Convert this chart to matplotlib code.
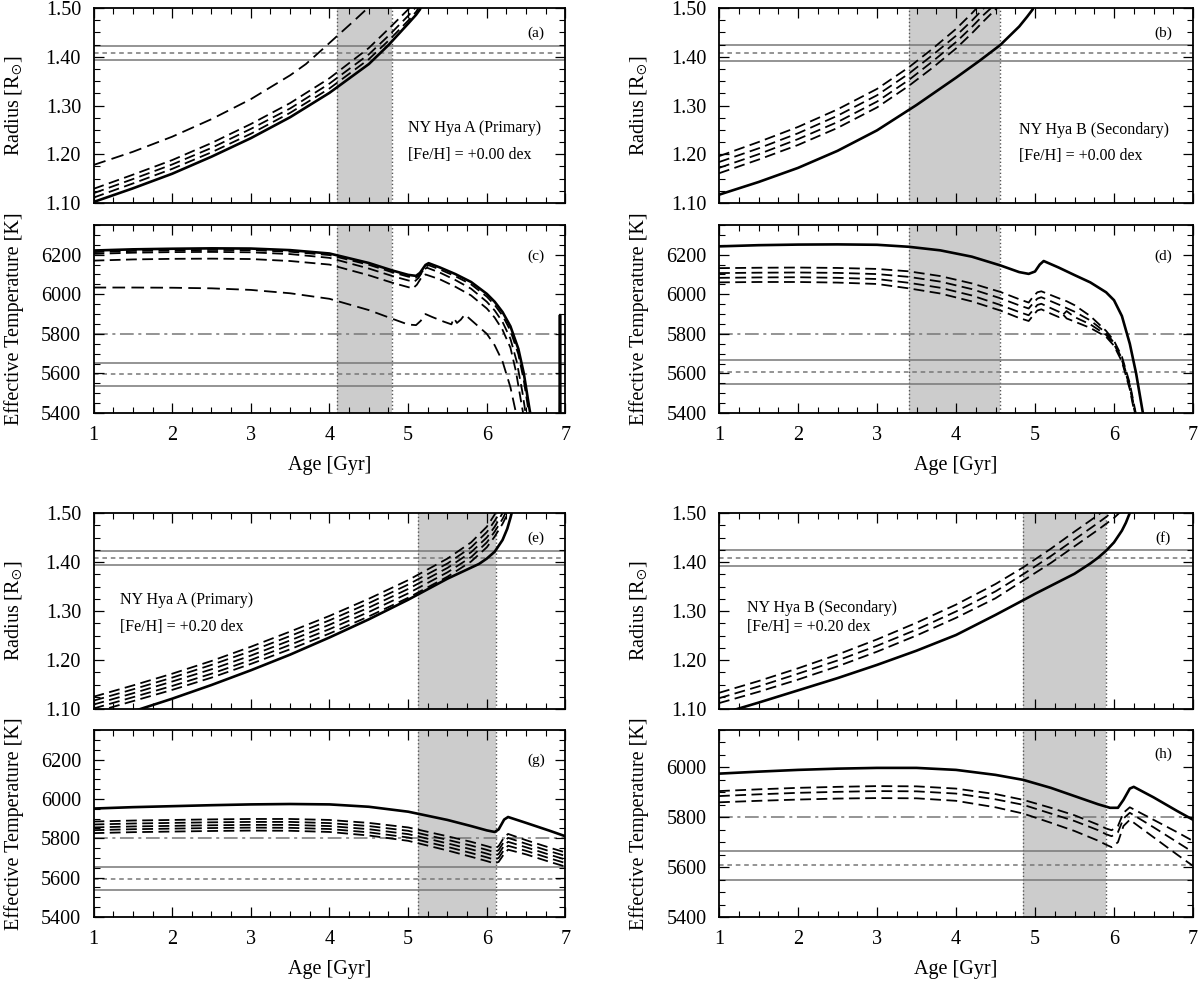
import matplotlib
matplotlib.use("Agg")
import matplotlib.pyplot as plt
from matplotlib.ticker import MultipleLocator

plt.rcParams['font.family'] = ['Liberation Serif', 'DejaVu Serif']
plt.rcParams['mathtext.fontset'] = 'stix'

# ---------------- observed values (horizontal reference lines) ----------------
radius_A = [1.393, 1.408, 1.423]      # lower, mean, upper
radius_B = [1.391, 1.408, 1.425]
teff_A = [5536, 5595, 5653]
teff_B = [5547, 5607, 5666]
teff_ref = 5800                        # dash-dot line

# age ranges (shaded bands) in Gyr
band_a = [4.09, 4.79]
band_b = [3.40, 4.56]
band_e = [5.12, 6.12]
band_f = [4.85, 5.90]

# ---------------- (a) NY Hya A, radius, [Fe/H]=0.00 ----------------
age_a_s = [1.0, 1.5, 2.0, 2.5, 3.0, 3.5, 4.0, 4.5, 4.75, 5.0, 5.1, 5.15, 5.18, 5.2]
rad_a_s = [1.102, 1.130, 1.160, 1.195, 1.233, 1.276, 1.326, 1.385, 1.424, 1.468, 1.486, 1.497, 1.51, 1.52]
age_a_d = [1.0, 1.5, 2.0, 2.5, 3.0, 3.5, 4.0, 4.5, 4.75, 5.0, 5.1, 5.15]
rad_a_d1 = [1.129, 1.158, 1.188, 1.223, 1.262, 1.305, 1.356, 1.418, 1.457, 1.497, 1.515, 1.53]
rad_a_d2 = [1.120, 1.149, 1.179, 1.213, 1.252, 1.294, 1.345, 1.405, 1.443, 1.484, 1.502, 1.515]
rad_a_d3 = [1.111, 1.140, 1.170, 1.204, 1.242, 1.285, 1.335, 1.395, 1.433, 1.474, 1.492, 1.505]
age_a_far = [1.0, 1.5, 2.0, 2.5, 3.0, 3.5, 3.7, 3.95, 4.1, 4.3, 4.5]
rad_a_far = [1.178, 1.205, 1.236, 1.272, 1.313, 1.362, 1.385, 1.421, 1.443, 1.472, 1.502]

# ---------------- (c) NY Hya A, Teff, [Fe/H]=0.00 ----------------
age_c_s = [1.0, 1.5, 2.0, 2.5, 3.0, 3.5, 4.0, 4.5, 4.8, 5.0, 5.1, 5.15, 5.22, 5.26, 5.4,
           5.6, 5.8, 6.0, 6.1, 6.2, 6.3, 6.4, 6.47, 6.53, 6.58]
teff_c_s = [6221, 6227, 6230, 6232, 6231, 6223, 6206, 6158, 6120, 6098, 6093, 6108, 6148, 6157, 6136,
            6102, 6062, 6002, 5962, 5910, 5838, 5725, 5600, 5450, 5330]
teff_c_d1 = [6213, 6219, 6222, 6224, 6223, 6215, 6198, 6149, 6111, 6089, 6084, 6098, 6138, 6147, 6126,
             6091, 6050, 5988, 5946, 5892, 5816, 5698, 5565, 5410, 5290]
age_c_d2 = [1.0, 1.5, 2.0, 2.5, 3.0, 3.5, 4.0, 4.5, 4.8, 5.0, 5.08, 5.13, 5.2, 5.24, 5.4,
            5.6, 5.8, 6.0, 6.1, 6.2, 6.3, 6.38, 6.45, 6.5]
teff_c_d2 = [6204, 6210, 6213, 6214, 6212, 6203, 6184, 6130, 6092, 6070, 6064, 6082, 6126, 6134, 6110,
             6072, 6028, 5962, 5918, 5860, 5775, 5660, 5510, 5380]
age_c_d3 = [1.0, 1.5, 2.0, 2.5, 3.0, 3.5, 4.0, 4.5, 4.8, 5.0, 5.06, 5.11, 5.18, 5.22, 5.4,
            5.6, 5.8, 6.0, 6.1, 6.2, 6.3, 6.37, 6.43, 6.47]
teff_c_d3 = [6170, 6176, 6179, 6180, 6178, 6168, 6150, 6096, 6058, 6036, 6030, 6048, 6092, 6100, 6076,
             6038, 5994, 5928, 5882, 5820, 5730, 5610, 5470, 5380]
age_c_far = [1.0, 1.5, 2.0, 2.5, 3.0, 3.5, 4.0, 4.5, 4.8, 5.0, 5.1, 5.16, 5.22, 5.3, 5.45, 5.55,
             5.58, 5.62, 5.67, 5.72, 5.8, 6.0, 6.1, 6.2, 6.3, 6.36, 6.42]
teff_c_far = [6034, 6034, 6033, 6030, 6022, 6005, 5977, 5920, 5876, 5847, 5844, 5866, 5900, 5886, 5862, 5848,
              5880, 5855, 5872, 5898, 5870, 5800, 5742, 5660, 5530, 5420, 5320]
age_c_spike = [6.925, 6.93, 6.935]
teff_c_spike = [5380, 5895, 5380]

# ---------------- (b) NY Hya B, radius, [Fe/H]=0.00 ----------------
age_b_s = [1.0, 1.5, 2.0, 2.5, 3.0, 3.5, 4.0, 4.3, 4.56, 4.8, 4.9, 4.97, 5.0]
rad_b_s = [1.117, 1.143, 1.172, 1.207, 1.249, 1.301, 1.357, 1.392, 1.424, 1.462, 1.482, 1.497, 1.51]
age_b_d = [1.0, 1.5, 2.0, 2.5, 3.0, 3.4, 3.7, 4.0, 4.2, 4.35, 4.5, 4.6]
rad_b_d1 = [1.196, 1.225, 1.256, 1.292, 1.334, 1.378, 1.416, 1.457, 1.489, 1.515, 1.540, 1.560]
rad_b_d2 = [1.184, 1.212, 1.243, 1.279, 1.321, 1.365, 1.403, 1.443, 1.474, 1.499, 1.522, 1.540]
rad_b_d3 = [1.172, 1.200, 1.231, 1.266, 1.308, 1.352, 1.390, 1.430, 1.461, 1.486, 1.508, 1.525]
rad_b_d4 = [1.161, 1.189, 1.219, 1.254, 1.296, 1.340, 1.377, 1.417, 1.448, 1.473, 1.497, 1.512]

# ---------------- (d) NY Hya B, Teff, [Fe/H]=0.00 ----------------
age_d_s = [1.0, 1.5, 2.0, 2.5, 3.0, 3.4, 3.8, 4.2, 4.56, 4.8, 4.92, 5.0, 5.06, 5.11, 5.3, 5.5,
           5.7, 5.9, 6.0, 6.1, 6.2, 6.28, 6.34, 6.4]
teff_d_s = [6242, 6248, 6251, 6252, 6250, 6240, 6222, 6190, 6146, 6112, 6103, 6115, 6150, 6168, 6135, 6097,
            6060, 6010, 5970, 5890, 5750, 5600, 5460, 5320]
age_d_d = [1.0, 1.5, 2.0, 2.5, 3.0, 3.4, 3.8, 4.2, 4.56, 4.8, 4.92, 4.97, 5.03, 5.08, 5.2, 5.3,
           5.35, 5.4, 5.5, 5.7, 5.9, 6.0, 6.1, 6.2, 6.25, 6.3]
teff_d_d1 = [6132, 6134, 6135, 6133, 6128, 6116, 6092, 6055, 6012, 5975, 5958, 5985, 6010, 6015, 5996, 5980,
             5972, 5965, 5945, 5890, 5815, 5765, 5685, 5550, 5450, 5350]
teff_d_d2 = [6107, 6109, 6110, 6108, 6102, 6088, 6064, 6026, 5980, 5944, 5928, 5952, 5978, 5985, 5965, 5948,
             5940, 5930, 5912, 5868, 5805, 5755, 5675, 5540, 5440, 5345]
teff_d_d3 = [6083, 6085, 6086, 6083, 6077, 6058, 6033, 5994, 5946, 5910, 5894, 5918, 5946, 5952, 5930, 5912,
             5895, 5915, 5885, 5848, 5795, 5748, 5668, 5530, 5430, 5340]
teff_d_d4 = [6060, 6062, 6062, 6059, 6052, 6030, 6004, 5964, 5918, 5880, 5865, 5890, 5918, 5924, 5902, 5885,
             5900, 5878, 5862, 5830, 5785, 5740, 5660, 5520, 5420, 5335]

# ---------------- (e) NY Hya A, radius, [Fe/H]=+0.20 ----------------
age_e_s = [1.0, 1.5, 2.0, 2.5, 3.0, 3.5, 4.0, 4.5, 5.0, 5.5, 5.9, 6.0, 6.1, 6.2, 6.26, 6.3, 6.34]
rad_e_s = [1.072, 1.095, 1.121, 1.149, 1.179, 1.211, 1.246, 1.283, 1.323, 1.366, 1.396, 1.407, 1.421, 1.445,
           1.468, 1.490, 1.515]
age_e_d = [1.0, 1.5, 2.0, 2.5, 3.0, 3.5, 4.0, 4.5, 5.0, 5.5, 5.8, 6.0, 6.1, 6.2, 6.3]
rad_e_d1 = [1.125, 1.148, 1.172, 1.198, 1.227, 1.258, 1.290, 1.325, 1.363, 1.407, 1.440, 1.472, 1.497, 1.530, 1.560]
rad_e_d2 = [1.117, 1.140, 1.164, 1.190, 1.218, 1.249, 1.281, 1.316, 1.354, 1.397, 1.430, 1.461, 1.484, 1.510, 1.540]
rad_e_d3 = [1.109, 1.132, 1.156, 1.181, 1.209, 1.240, 1.272, 1.307, 1.345, 1.388, 1.420, 1.450, 1.472, 1.500, 1.530]
rad_e_d4 = [1.101, 1.124, 1.147, 1.172, 1.200, 1.231, 1.263, 1.298, 1.336, 1.379, 1.410, 1.440, 1.462, 1.488, 1.520]
rad_e_d5 = [1.093, 1.116, 1.139, 1.164, 1.192, 1.222, 1.254, 1.289, 1.327, 1.370, 1.401, 1.430, 1.452, 1.478, 1.510]

# ---------------- (g) NY Hya A, Teff, [Fe/H]=+0.20 ----------------
age_g = [1.0, 1.5, 2.0, 2.5, 3.0, 3.5, 4.0, 4.5, 5.0, 5.5, 5.8, 6.0, 6.1, 6.15, 6.22, 6.27, 6.5, 6.8, 7.0]
teff_g_s = [5951, 5958, 5963, 5968, 5972, 5974, 5972, 5960, 5935, 5893, 5862, 5840, 5832, 5845, 5895, 5908,
            5878, 5838, 5810]
teff_g_d1 = [5885, 5890, 5893, 5896, 5898, 5898, 5893, 5878, 5855, 5810, 5782, 5760, 5748, 5760, 5805, 5822,
             5790, 5752, 5728]
teff_g_d2 = [5870, 5875, 5878, 5881, 5883, 5883, 5877, 5862, 5838, 5792, 5763, 5741, 5729, 5740, 5784, 5802,
             5772, 5734, 5710]
teff_g_d3 = [5855, 5860, 5863, 5866, 5868, 5868, 5862, 5846, 5821, 5774, 5744, 5722, 5710, 5720, 5763, 5782,
             5754, 5716, 5692]
teff_g_d4 = [5841, 5846, 5849, 5852, 5854, 5853, 5847, 5830, 5804, 5756, 5725, 5703, 5691, 5700, 5742, 5762,
             5736, 5698, 5674]
teff_g_d5 = [5826, 5831, 5834, 5837, 5839, 5838, 5832, 5814, 5787, 5738, 5706, 5684, 5672, 5680, 5721, 5742,
             5718, 5680, 5656]

# ---------------- (f) NY Hya B, radius, [Fe/H]=+0.20 ----------------
age_f_s = [1.0, 1.23, 1.5, 2.0, 2.5, 3.0, 3.5, 4.0, 4.5, 4.85, 5.0, 5.5, 5.7, 5.8, 5.9, 6.0, 6.1, 6.15,
           6.2, 6.23]
rad_f_s = [1.088, 1.100, 1.113, 1.138, 1.163, 1.190, 1.219, 1.251, 1.292, 1.322, 1.335, 1.376, 1.397, 1.409,
           1.423, 1.440, 1.464, 1.480, 1.500, 1.520]
age_f_d = [1.0, 1.5, 2.0, 2.5, 3.0, 3.5, 4.0, 4.5, 4.85, 5.2, 5.5, 5.8, 5.9, 6.0, 6.1]
rad_f_d1 = [1.133, 1.157, 1.183, 1.211, 1.242, 1.276, 1.313, 1.355, 1.389, 1.427, 1.462, 1.496, 1.510, 1.530, 1.550]
rad_f_d2 = [1.122, 1.146, 1.172, 1.199, 1.229, 1.262, 1.299, 1.340, 1.375, 1.412, 1.446, 1.480, 1.492, 1.505, 1.520]
rad_f_d3 = [1.112, 1.135, 1.160, 1.187, 1.217, 1.250, 1.286, 1.326, 1.362, 1.398, 1.432, 1.466, 1.478, 1.490, 1.505]

# ---------------- (h) NY Hya B, Teff, [Fe/H]=+0.20 ----------------
age_h_s = [1.0, 1.5, 2.0, 2.5, 3.0, 3.5, 4.0, 4.5, 4.85, 5.2, 5.5, 5.8, 5.95, 6.05, 6.12, 6.2, 6.25, 6.5,
           6.8, 7.0]
teff_h_s = [5975, 5983, 5990, 5995, 5998, 5998, 5990, 5970, 5950, 5918, 5885, 5852, 5838, 5838, 5870, 5915,
            5922, 5880, 5825, 5790]
age_h_d = [1.0, 1.5, 2.0, 2.5, 3.0, 3.5, 4.0, 4.5, 4.85, 5.2, 5.5, 5.8, 5.9, 5.97, 6.05, 6.12, 6.2, 6.5,
           6.8, 7.0]
teff_h_d1 = [5905, 5912, 5918, 5922, 5925, 5924, 5915, 5893, 5870, 5838, 5808, 5770, 5755, 5748, 5765, 5818,
             5840, 5790, 5740, 5705]
teff_h_d2 = [5885, 5892, 5898, 5902, 5905, 5904, 5895, 5872, 5850, 5815, 5785, 5748, 5732, 5724, 5740, 5795,
             5818, 5760, 5700, 5660]
teff_h_d3 = [5860, 5866, 5871, 5875, 5877, 5876, 5866, 5840, 5815, 5778, 5745, 5706, 5690, 5680, 5700, 5765,
             5790, 5720, 5650, 5605]

DASH = (6, 3)
FONT = 14.5


def frame(ax, kind, ylim, show_x):
    ax.set_xlim(1, 7)
    ax.set_ylim(*ylim)
    ax.xaxis.set_major_locator(MultipleLocator(1))
    ax.xaxis.set_minor_locator(MultipleLocator(0.25))
    if kind == 'r':
        ax.yaxis.set_major_locator(MultipleLocator(0.1))
        ax.yaxis.set_minor_locator(MultipleLocator(0.025))
        ax.yaxis.set_major_formatter(plt.FormatStrFormatter('%.2f'))
        ax.set_ylabel(r'Radius [R$_{\odot}$]', fontsize=FONT)
    else:
        ax.yaxis.set_major_locator(MultipleLocator(200))
        ax.yaxis.set_minor_locator(MultipleLocator(50))
        ax.set_ylabel('Effective Temperature [K]', fontsize=FONT)
    ax.yaxis.label.set_va('center')
    ax.yaxis.set_label_coords(-0.168, 0.5)
    ax.tick_params(which='both', direction='in', top=True, right=True, labelsize=FONT, pad=9)
    ax.tick_params(which='major', length=7, width=0.9)
    ax.tick_params(which='minor', length=4, width=0.8)
    for s in ax.spines.values():
        s.set_linewidth(1.3)
    if show_x:
        ax.set_xlabel('Age [Gyr]', fontsize=FONT, labelpad=8)
    else:
        ax.tick_params(labelbottom=False)


def refs(ax, obs, band, teff_line=None):
    ax.axvspan(band[0], band[1], color='#cccccc', lw=0, zorder=0)
    for b in band:
        ax.axvline(b, color='#555555', ls=':', lw=1.0, zorder=1)
    ax.axhline(obs[0], color='#777777', lw=1.1, zorder=1)
    ax.axhline(obs[2], color='#777777', lw=1.1, zorder=1)
    ax.axhline(obs[1], color='#777777', lw=1.1, ls=(0, (3, 2.5)), zorder=1)
    if teff_line is not None:
        ax.axhline(teff_line, color='#777777', lw=1.1, ls=(0, (9, 3, 2, 3)), zorder=1)


def solid(ax, x, y):
    ax.plot(x, y, color='k', lw=1.9, zorder=3)


def dashed(ax, x, y, d=DASH):
    ax.plot(x, y, color='k', lw=1.3, dashes=d, zorder=2)


fig = plt.figure(figsize=(12, 9.82), dpi=100)
W, H = 1200.0, 982.0
col_x = [93.5, 719]
col_w = [472, 474]
rows = [(8, 203), (225, 413), (513, 709), (730, 917)]


def make_ax(col, row):
    top, bot = rows[row]
    return fig.add_axes([col_x[col] / W, 1 - bot / H, col_w[col] / W, (bot - top) / H])


R_LIM = (1.10, 1.50)
T_LIM = (5400, 6350)

# (a)
ax = make_ax(0, 0)
frame(ax, 'r', R_LIM, False)
refs(ax, radius_A, band_a)
dashed(ax, age_a_far, rad_a_far, (7, 3.5))
dashed(ax, age_a_d, rad_a_d1)
dashed(ax, age_a_d, rad_a_d2)
dashed(ax, age_a_d, rad_a_d3)
solid(ax, age_a_s, rad_a_s)
ax.text(5.0, 1.253, 'NY Hya A (Primary)', fontsize=11.5, va='center')
ax.text(5.0, 1.198, '[Fe/H] = +0.00 dex', fontsize=11.5, va='center')
ax.text(0.937, 0.87, '(a)', transform=ax.transAxes, fontsize=11, ha='center', va='center')

# (c)
ax = make_ax(0, 1)
frame(ax, 't', T_LIM, True)
refs(ax, teff_A, band_a, teff_ref)
dashed(ax, age_c_far, teff_c_far, (7, 3.5))
dashed(ax, age_c_s, teff_c_d1)
dashed(ax, age_c_d2, teff_c_d2)
dashed(ax, age_c_d3, teff_c_d3)
solid(ax, age_c_s, teff_c_s)
solid(ax, age_c_spike, teff_c_spike)
ax.text(0.937, 0.836, '(c)', transform=ax.transAxes, fontsize=11, ha='center', va='center')

# (b)
ax = make_ax(1, 0)
frame(ax, 'r', R_LIM, False)
refs(ax, radius_B, band_b)
for r in (rad_b_d1, rad_b_d2, rad_b_d3, rad_b_d4):
    dashed(ax, age_b_d, r)
solid(ax, age_b_s, rad_b_s)
ax.text(4.8, 1.25, 'NY Hya B (Secondary)', fontsize=11.5, va='center')
ax.text(4.8, 1.196, '[Fe/H] = +0.00 dex', fontsize=11.5, va='center')
ax.text(0.937, 0.87, '(b)', transform=ax.transAxes, fontsize=11, ha='center', va='center')

# (d)
ax = make_ax(1, 1)
frame(ax, 't', T_LIM, True)
refs(ax, teff_B, band_b, teff_ref)
for t in (teff_d_d1, teff_d_d2, teff_d_d3, teff_d_d4):
    dashed(ax, age_d_d, t)
solid(ax, age_d_s, teff_d_s)
ax.text(0.937, 0.836, '(d)', transform=ax.transAxes, fontsize=11, ha='center', va='center')

# (e)
ax = make_ax(0, 2)
frame(ax, 'r', R_LIM, False)
refs(ax, radius_A, band_e)
for r in (rad_e_d1, rad_e_d2, rad_e_d3, rad_e_d4, rad_e_d5):
    dashed(ax, age_e_d, r)
solid(ax, age_e_s, rad_e_s)
ax.text(1.34, 1.322, 'NY Hya A (Primary)', fontsize=11.5, va='center')
ax.text(1.34, 1.268, '[Fe/H] = +0.20 dex', fontsize=11.5, va='center')
ax.text(0.937, 0.87, '(e)', transform=ax.transAxes, fontsize=11, ha='center', va='center')

# (g)
ax = make_ax(0, 3)
frame(ax, 't', T_LIM, True)
refs(ax, teff_A, band_e, teff_ref)
for t in (teff_g_d1, teff_g_d2, teff_g_d3, teff_g_d4, teff_g_d5):
    dashed(ax, age_g, t)
solid(ax, age_g, teff_g_s)
ax.text(0.937, 0.836, '(g)', transform=ax.transAxes, fontsize=11, ha='center', va='center')

# (f)
ax = make_ax(1, 2)
frame(ax, 'r', R_LIM, False)
refs(ax, radius_B, band_f)
for r in (rad_f_d1, rad_f_d2, rad_f_d3):
    dashed(ax, age_f_d, r)
solid(ax, age_f_s, rad_f_s)
ax.text(1.35, 1.306, 'NY Hya B (Secondary)', fontsize=11.5, va='center')
ax.text(1.35, 1.268, '[Fe/H] = +0.20 dex', fontsize=11.5, va='center')
ax.text(0.937, 0.87, '(f)', transform=ax.transAxes, fontsize=11, ha='center', va='center')

# (h)
ax = make_ax(1, 3)
frame(ax, 't', (5400, 6150), True)
refs(ax, teff_B, band_f, teff_ref)
for t in (teff_h_d1, teff_h_d2, teff_h_d3):
    dashed(ax, age_h_d, t)
solid(ax, age_h_s, teff_h_s)
ax.text(0.937, 0.87, '(h)', transform=ax.transAxes, fontsize=11, ha='center', va='center')

fig.savefig('out.png', dpi=100)
